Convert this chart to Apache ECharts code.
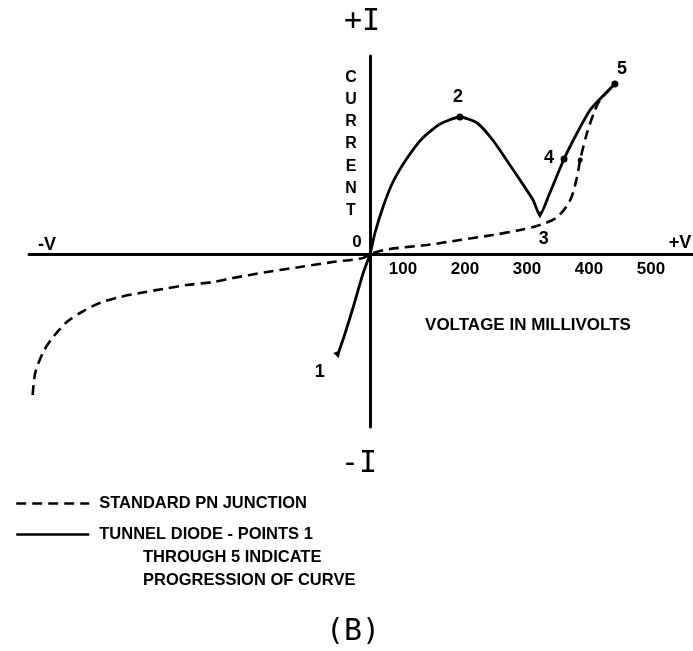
<!DOCTYPE html>
<html>
<head>
<meta charset="utf-8">
<script src="https://cdn.jsdelivr.net/npm/echarts@6/dist/echarts.min.js"></script>
<style>
html, body { margin: 0; padding: 0; background: #fff; }
#chart { width: 693px; height: 651px; }
</style>
</head>
<body>
<div id="chart"></div>
<script>
// voltage (mV from the origin) , current (arbitrary units)
var pnJunction = [
    [-544, -14.1], [-540, -11.9], [-527, -9.8], [-511, -8.3], [-489, -6.8],
    [-465, -5.8], [-436, -4.9], [-403, -4.3], [-371, -3.9], [-334, -3.5],
    [-295, -3.1], [-253, -2.8], [-221, -2.4], [-166, -1.8], [-113, -1.3],
    [-60, -0.8], [-11, -0.4], [0, 0], [32, 0.5], [92, 0.9], [145, 1.4],
    [198, 1.9], [242, 2.4], [274, 2.9], [302, 3.7], [323, 5.4], [334, 7.7],
    [339, 9.4], [350, 12.1], [363, 14.4], [371, 15.4], [395, 17.0]
];
var tunnelDiode = [
    [-52, -10.1], [-40, -7.9], [-27, -5.3], [-11, -1.9], [0, 0], [8, 2.1],
    [21, 4.7], [37, 7.2], [60, 9.6], [85, 11.6], [113, 13.0], [145, 13.7],
    [173, 13.1], [198, 11.4], [218, 9.6], [242, 7.4], [263, 5.4], [274, 3.9],
    [290, 6.1], [313, 9.5], [334, 12.1], [355, 14.4], [371, 15.5], [395, 17.0]
];
var pointNames = ['1', '2', '3', '4', '5'];
var pointValues = [[-52, -10.1], [145, 13.7], [274, 3.9], [313, 9.5], [395, 17.0]];
var voltTicks = [100, 200, 300, 400, 500];

// styling for the numbered points
var pointSymbols = ['triangle', 'circle', 'triangle', 'circle', 'circle'];
var pointRotate = [200, 0, 180, 0, 0];
var pointLabelOffsets = [[-18, 17], [-2, -20], [4, 24], [-15, -1], [7, -15]];

var font = 'Liberation Sans, Arial, sans-serif';
var mono = 'DejaVu Sans Mono, monospace';

var dom = document.getElementById('chart');
var myChart = echarts.init(dom);

var pnData = pnJunction.map(function (p) {
    if (p[0] === 339) {
        return { value: p, symbol: 'circle', symbolSize: 5 };
    }
    return p;
});

var markers = pointValues.map(function (p, i) {
    return {
        value: p,
        name: pointNames[i],
        symbol: pointSymbols[i],
        symbolRotate: pointRotate[i],
        label: { offset: pointLabelOffsets[i] }
    };
});

function txt(text, x, y, f, align, lineHeight) {
    var st = {
        text: text,
        font: f,
        fill: '#000',
        align: align || 'center',
        verticalAlign: 'middle'
    };
    if (lineHeight) st.lineHeight = lineHeight;
    return { type: 'text', x: x, y: y, style: st };
}

option = {
    backgroundColor: '#fff',
    animation: false,
    grid: {
        left: 29,
        right: 0,
        top: 56,
        bottom: 224
    },
    xAxis: {
        type: 'value',
        min: -550,
        max: 521,
        offset: -173,
        axisLine: { onZero: false, lineStyle: { color: '#000', width: 3 } },
        axisTick: { show: false },
        splitLine: { show: false },
        axisLabel: {
            customValues: voltTicks,
            color: '#000',
            fontFamily: font,
            fontWeight: 'bold',
            fontSize: 17,
            margin: 7,
            padding: [0, 58, 0, 0]
        }
    },
    yAxis: {
        type: 'value',
        min: -17.3,
        max: 19.8,
        axisLine: { onZero: true, lineStyle: { color: '#000', width: 3 } },
        axisTick: { show: false },
        splitLine: { show: false },
        axisLabel: { show: false }
    },
    legend: {
        data: ['STANDARD PN JUNCTION', 'TUNNEL DIODE - POINTS 1'],
        orient: 'vertical',
        left: 15,
        top: 495,
        padding: 0,
        itemWidth: 73,
        itemHeight: 16,
        itemGap: 14,
        selectedMode: false,
        itemStyle: { color: 'rgba(0,0,0,0)', borderWidth: 0 },
        lineStyle: { color: '#000', width: 2.5 },
        textStyle: {
            color: '#000',
            fontFamily: font,
            fontWeight: 'bold',
            fontSize: 16.5,
            padding: [0, 0, 0, 5]
        }
    },
    series: [
        {
            name: 'STANDARD PN JUNCTION',
            type: 'line',
            data: pnData,
            symbol: 'none',
            smooth: 0.3,
            itemStyle: { color: '#000' },
            lineStyle: { color: '#000', width: 2.6, type: [10, 6] }
        },
        {
            name: 'TUNNEL DIODE - POINTS 1',
            type: 'line',
            data: tunnelDiode,
            symbol: 'none',
            smooth: 0.2,
            itemStyle: { color: '#000' },
            lineStyle: { color: '#000', width: 2.8 }
        },
        {
            name: 'points',
            type: 'scatter',
            data: markers,
            symbolSize: 7,
            itemStyle: { color: '#000', opacity: 1 },
            label: {
                show: true,
                position: 'inside',
                formatter: '{b}',
                color: '#000',
                fontFamily: font,
                fontWeight: 'bold',
                fontSize: 18
            }
        }
    ],
    graphic: [
        txt('+I', 362, 22, '30px ' + mono),
        txt('-I', 359, 464, '30px ' + mono),
        txt('(B)', 353, 632, '30px ' + mono),
        txt('C\nU\nR\nR\nE\nN\nT', 351, 144, 'bold 16px ' + font, 'center', 22.3),
        txt('0', 357, 242, 'bold 17px ' + font),
        txt('-V', 47, 245, 'bold 18px ' + font),
        txt('+V', 680, 243, 'bold 18px ' + font),
        txt('VOLTAGE IN MILLIVOLTS', 528, 325, 'bold 17px ' + font),
        txt('THROUGH 5 INDICATE', 143, 557, 'bold 16.5px ' + font, 'left'),
        txt('PROGRESSION OF CURVE', 143, 580, 'bold 16.5px ' + font, 'left')
    ]
};

myChart.setOption(option);
</script>
</body>
</html>
